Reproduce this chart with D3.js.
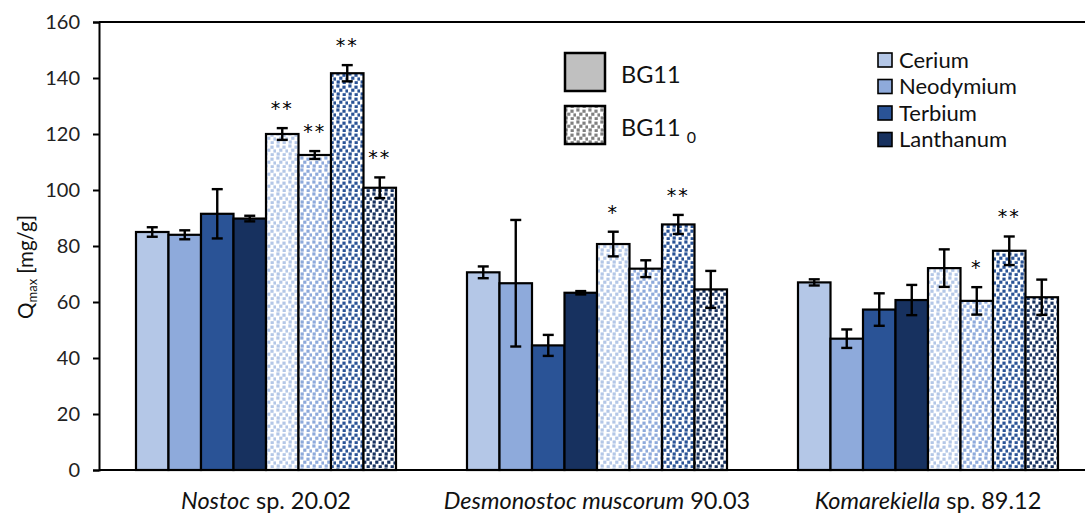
<!DOCTYPE html>
<html>
<head>
<meta charset="utf-8">
<script src="https://cdn.jsdelivr.net/npm/d3@7"></script>
<style>
  html, body { margin: 0; padding: 0; background: #fff; }
  svg { display: block; font-family: Lato, "Open Sans", sans-serif; }
</style>
</head>
<body>
<svg id="chart" width="1085" height="517"></svg>
<script>
// Strains (x categories), split into italic genus/species part and plain rest
const strains = ["Nostoc sp. 20.02", "Desmonostoc muscorum 90.03", "Komarekiella sp. 89.12"];
const strainItalic = ["Nostoc", "Desmonostoc muscorum", "Komarekiella"];
const strainPlain = [" sp. 20.02", " 90.03", " sp. 89.12"];

// Rare earth elements and media
const elements = ["Cerium", "Neodymium", "Terbium", "Lanthanum"];
const media = ["BG11", "BG11_0"];

// Qmax [mg/g], one row per strain, columns follow `elements`
const bg11Mean = [
  [85.0, 84.0, 91.5, 89.8],
  [70.6, 66.7, 44.5, 63.3],
  [67.0, 46.9, 57.3, 60.7]
];
const bg11Err = [
  [1.7, 1.6, 8.8, 1.0],
  [2.1, 22.6, 3.75, 0.6],
  [1.1, 3.3, 5.8, 5.4]
];
const bg110Mean = [
  [120.0, 112.5, 141.7, 100.8],
  [80.7, 71.9, 87.7, 64.5],
  [72.1, 60.4, 78.3, 61.7]
];
const bg110Err = [
  [2.1, 1.4, 2.9, 3.7],
  [4.4, 3.0, 3.4, 6.6],
  [6.7, 4.9, 5.1, 6.3]
];
// Significance marks for BG11_0 vs BG11
const bg110Sig = [
  ["**", "**", "**", "**"],
  ["*", "", "**", ""],
  ["", "*", "**", ""]
];

const yTicks = [0, 20, 40, 60, 80, 100, 120, 140, 160];

const elementColors = ["#b4c7e7", "#8eaadb", "#2a5396", "#17315f"];

// Flatten into one row per bar
const bars = [];
strains.forEach((s, si) => {
  elements.forEach((el, ei) => {
    bars.push({ strain: s, si, ei, medium: "BG11", key: "BG11-" + el, mean: bg11Mean[si][ei], err: bg11Err[si][ei], sig: "" });
  });
  elements.forEach((el, ei) => {
    bars.push({ strain: s, si, ei, medium: "BG11_0", key: "BG11_0-" + el, mean: bg110Mean[si][ei], err: bg110Err[si][ei], sig: bg110Sig[si][ei] });
  });
});
const barKeys = media.flatMap(m => elements.map(el => m + "-" + el));

const svg = d3.select("#chart");
const defs = svg.append("defs");

// Dotted fill used for BG11_0 bars
const dots = [[0.3, 0.4], [6.4, 1.6], [3.2, 4.6], [9.4, 5.4], [0.6, 8.4], [6.6, 9.2]];
function dotPattern(id, color) {
  const p = defs.append("pattern")
    .attr("id", id)
    .attr("patternUnits", "userSpaceOnUse")
    .attr("width", 12).attr("height", 12);
  p.append("rect").attr("width", 12).attr("height", 12).attr("fill", "#fff");
  p.selectAll("rect.d").data(dots).join("rect")
    .attr("class", "d")
    .attr("x", d => d[0]).attr("y", d => d[1])
    .attr("width", 3.2).attr("height", 3.2)
    .attr("fill", color);
}
elements.forEach((el, i) => dotPattern("dots-" + i, elementColors[i]));
dotPattern("dots-gray", "#808080");

// Scales
const y = d3.scaleLinear().domain([0, 160]).range([470, 22]);
const x0 = d3.scaleBand().domain(strains).range([100.5, 1093.5]).padding(0);
const x1 = d3.scaleBand().domain(barKeys).range([35.5, 295.5]).padding(0);

// Top frame line
svg.append("line")
  .attr("x1", 99).attr("x2", 1093.5)
  .attr("y1", y(160)).attr("y2", y(160))
  .attr("stroke", "#000").attr("stroke-width", 2);

// Bars
const barG = svg.append("g");
barG.selectAll("rect").data(bars).join("rect")
  .attr("x", d => x0(d.strain) + x1(d.key))
  .attr("width", x1.bandwidth())
  .attr("y", d => y(d.mean))
  .attr("height", d => y(0) - y(d.mean))
  .attr("fill", d => d.medium === "BG11" ? elementColors[d.ei] : "url(#dots-" + d.ei + ")")
  .attr("stroke", "#000")
  .attr("stroke-width", 2.2);

// Error bars
const errG = svg.append("g").attr("stroke", "#000").attr("stroke-width", 2.4);
const cx = d => x0(d.strain) + x1(d.key) + x1.bandwidth() / 2;
errG.selectAll("line.v").data(bars).join("line")
  .attr("class", "v")
  .attr("x1", cx).attr("x2", cx)
  .attr("y1", d => y(d.mean + d.err)).attr("y2", d => y(d.mean - d.err));
errG.selectAll("line.t").data(bars).join("line")
  .attr("class", "t")
  .attr("x1", d => cx(d) - 5.5).attr("x2", d => cx(d) + 5.5)
  .attr("y1", d => y(d.mean + d.err)).attr("y2", d => y(d.mean + d.err));
errG.selectAll("line.b").data(bars).join("line")
  .attr("class", "b")
  .attr("x1", d => cx(d) - 5.5).attr("x2", d => cx(d) + 5.5)
  .attr("y1", d => y(d.mean - d.err)).attr("y2", d => y(d.mean - d.err));

// Significance asterisks
svg.append("g").selectAll("text").data(bars.filter(d => d.sig)).join("text")
  .attr("x", cx)
  .attr("y", d => y(d.mean + d.err) - 13)
  .attr("text-anchor", "middle")
  .attr("font-family", "'DejaVu Sans', sans-serif")
  .attr("font-size", 19)
  .attr("letter-spacing", 2)
  .attr("fill", "#000")
  .text(d => d.sig);

// Y axis
const yAxis = svg.append("g")
  .attr("transform", "translate(99,0)")
  .call(d3.axisLeft(y).tickValues(yTicks).tickSize(6).tickPadding(13));
yAxis.select(".domain").attr("stroke-width", 2);
yAxis.selectAll(".tick line").attr("stroke-width", 2);
yAxis.selectAll(".tick text")
  .attr("font-family", "Lato, sans-serif")
  .attr("font-size", 20)
  .attr("fill", "#222");

// X axis baseline
svg.append("line")
  .attr("x1", 99).attr("x2", 1093.5)
  .attr("y1", y(0)).attr("y2", y(0))
  .attr("stroke", "#000").attr("stroke-width", 2);

// Strain labels
const xl = svg.append("g").selectAll("text").data(strains).join("text")
  .attr("x", d => x0(d) + x0.bandwidth() / 2)
  .attr("y", 509)
  .attr("text-anchor", "middle")
  .attr("font-size", 23.5)
  .attr("fill", "#111");
xl.append("tspan").attr("font-style", "italic").text((d, i) => strainItalic[i]);
xl.append("tspan").text((d, i) => strainPlain[i]);

// Y axis title
const yt = svg.append("text")
  .attr("transform", "translate(33,267) rotate(-90)")
  .attr("text-anchor", "middle")
  .attr("font-size", 20.5)
  .attr("fill", "#111");
yt.append("tspan").text("Q");
yt.append("tspan").attr("font-size", 13).attr("dy", 4).text("max");
yt.append("tspan").attr("dy", -4).text(" [mg/g]");

// Medium legend
const medLeg = svg.append("g");
const medRows = [{ label: "BG11", fill: "#c0c0c0", y: 53 }, { label: "BG11", sub: "0", fill: "url(#dots-gray)", y: 106 }];
medRows.forEach(r => {
  medLeg.append("rect")
    .attr("x", 565).attr("y", r.y).attr("width", 40).attr("height", 38)
    .attr("fill", r.fill).attr("stroke", "#000").attr("stroke-width", 2.5);
  const t = medLeg.append("text")
    .attr("x", 621).attr("y", r.y + 30)
    .attr("font-size", 23.5).attr("fill", "#111");
  t.append("tspan").text(r.label);
  if (r.sub) t.append("tspan").attr("font-size", 16).attr("dx", 6).attr("dy", 7).text(r.sub);
});

// Element legend
const elLeg = svg.append("g").selectAll("g").data(elements).join("g")
  .attr("transform", (d, i) => `translate(878,${53 + i * 26.5})`);
elLeg.append("rect")
  .attr("width", 14).attr("height", 14)
  .attr("fill", (d, i) => elementColors[i])
  .attr("stroke", "#000").attr("stroke-width", 1.6);
elLeg.append("text")
  .attr("x", 21).attr("y", 14.5)
  .attr("font-size", 22).attr("fill", "#111")
  .text(d => d);
</script>
</body>
</html>
